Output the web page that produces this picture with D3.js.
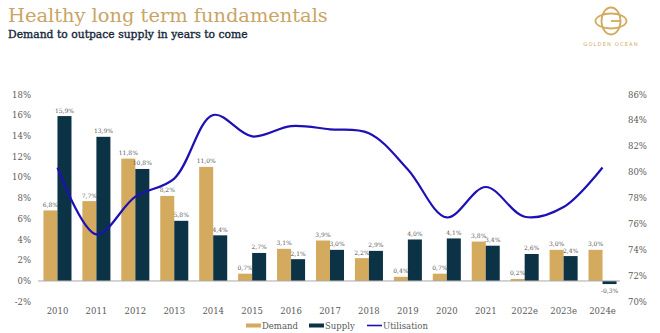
<!DOCTYPE html>
<html>
<head>
<meta charset="utf-8">
<script src="https://cdn.jsdelivr.net/npm/d3@7"></script>
<style>
  html, body { margin: 0; padding: 0; background: #ffffff; }
  svg { display: block; }
</style>
</head>
<body>
<svg id="chart" width="660" height="333"></svg>
<script>
// Fleet fundamentals: demand vs supply growth (left axis) and utilisation (right axis)
const years = ["2010","2011","2012","2013","2014","2015","2016","2017","2018","2019","2020","2021","2022e","2023e","2024e"];
const demand = [6.8, 7.7, 11.8, 8.2, 11.0, 0.7, 3.1, 3.9, 2.2, 0.4, 0.7, 3.8, 0.2, 3.0, 3.0];
const supply = [15.9, 13.9, 10.8, 5.8, 4.4, 2.7, 2.1, 3.0, 2.9, 4.0, 4.1, 3.4, 2.6, 2.4, -0.3];
const utilisation = [80.35, 75.2, 78.1, 79.5, 84.4, 82.75, 83.55, 83.3, 83.0, 80.2, 76.5, 78.85, 76.55, 77.3, 80.35];
const leftTicks = [-2, 0, 2, 4, 6, 8, 10, 12, 14, 16, 18];
const rightTicks = [70, 72, 74, 76, 78, 80, 82, 84, 86];
const seriesNames = ["Demand", "Supply", "Utilisation"];

const GOLD = "#d3aa5e";
const NAVY = "#0c3345";
const BLUE = "#1d10b4";
const GREY = "#5a5a5a";
const SERIF = "'DejaVu Serif', serif";

const svg = d3.select("#chart");

// Titles
const title = svg.append("text")
  .attr("x", 8).attr("y", 22)
  .attr("font-family", SERIF).attr("font-size", 20)
  .attr("fill", "#c9a564")
  .text("Healthy long term fundamentals");
const tw = title.node().getComputedTextLength();
title.attr("font-size", 20 * 320 / tw);

const sub = svg.append("text")
  .attr("x", 8).attr("y", 38)
  .attr("font-family", SERIF).attr("font-size", 10)
  .attr("fill", "#16283a").attr("stroke", "#16283a").attr("stroke-width", 0.35)
  .text("Demand to outpace supply in years to come");
const sw = sub.node().getComputedTextLength();
sub.attr("font-size", 10 * 240 / sw);

// Logo mark
const logo = svg.append("g").attr("transform", "translate(611,21)")
  .attr("fill", "none").attr("stroke", GOLD).attr("stroke-width", 1.8);
logo.append("ellipse").attr("rx", 9.5).attr("ry", 13.5);
logo.append("ellipse").attr("rx", 15.5).attr("ry", 7.5);
logo.append("line").attr("x1", 0).attr("x2", 9.5).attr("y1", 0).attr("y2", 0);
svg.append("text")
  .attr("x", 611).attr("y", 46).attr("text-anchor", "middle")
  .attr("font-family", "'DejaVu Sans', sans-serif").attr("font-size", 5.2)
  .attr("letter-spacing", 1.1).attr("fill", GOLD)
  .text("GOLDEN OCEAN");

// Scales
const x = d3.scaleBand().domain(years).range([38, 622]).paddingInner(0.28).paddingOuter(0.14);
const xs = d3.scaleBand().domain(["Demand", "Supply"]).range([0, x.bandwidth()]);
const yL = d3.scaleLinear().domain([-2, 18]).range([301.7, 94.3]);
const yR = d3.scaleLinear().domain([70, 86]).range([301.7, 94.3]);

// Axes (labels only)
const axL = svg.append("g").attr("transform", "translate(38,0)")
  .call(d3.axisLeft(yL).tickValues(leftTicks).tickSize(0).tickPadding(7).tickFormat(d => d + "%"));
const axR = svg.append("g").attr("transform", "translate(622,0)")
  .call(d3.axisRight(yR).tickValues(rightTicks).tickSize(0).tickPadding(6).tickFormat(d => d + "%"));
const axX = svg.append("g").attr("transform", "translate(0,303)")
  .call(d3.axisBottom(x).tickSize(0).tickPadding(5));
[axL, axR, axX].forEach(a => {
  a.select(".domain").remove();
  a.selectAll("text").attr("font-family", SERIF).attr("font-size", 8.5).attr("fill", GREY);
});

// Bars
const fmt = v => String(v.toFixed(1)).replace(".", ",") + "%";
const barData = [];
years.forEach((yr, i) => {
  barData.push({ yr, key: "Demand", v: demand[i] });
  barData.push({ yr, key: "Supply", v: supply[i] });
});
svg.append("g").selectAll("rect").data(barData).join("rect")
  .attr("x", d => x(d.yr) + xs(d.key))
  .attr("width", xs.bandwidth())
  .attr("y", d => yL(Math.max(0, d.v)))
  .attr("height", d => Math.abs(yL(d.v) - yL(0)))
  .attr("fill", d => d.key === "Demand" ? GOLD : NAVY);

// Zero baseline
svg.append("line")
  .attr("x1", 38).attr("x2", 620)
  .attr("y1", yL(0)).attr("y2", yL(0))
  .attr("stroke", "#a9a9a9").attr("stroke-width", 1);

// Value labels
svg.append("g").selectAll("text").data(barData).join("text")
  .attr("x", d => x(d.yr) + xs(d.key) + xs.bandwidth() / 2)
  .attr("y", d => d.v >= 0 ? yL(d.v) - 3.5 : yL(d.v) + 9)
  .attr("text-anchor", "middle")
  .attr("font-family", SERIF).attr("font-size", 6)
  .attr("fill", GREY)
  .text(d => fmt(d.v));

// Utilisation line
const line = d3.line()
  .x((d, i) => x(years[i]) + x.bandwidth() / 2)
  .y(d => yR(d))
  .curve(d3.curveCatmullRom.alpha(0.5));
svg.append("path").datum(utilisation)
  .attr("d", line)
  .attr("fill", "none").attr("stroke", BLUE).attr("stroke-width", 2.2);

// Legend
const legend = svg.append("g").attr("transform", "translate(0,326)");
const items = [
  { name: seriesNames[0], x: 246, type: "bar", color: GOLD },
  { name: seriesNames[1], x: 309, type: "bar", color: NAVY },
  { name: seriesNames[2], x: 367, type: "line", color: BLUE }
];
items.forEach(it => {
  if (it.type === "bar") {
    legend.append("rect").attr("x", it.x).attr("y", -2.5).attr("width", 15).attr("height", 4).attr("fill", it.color);
  } else {
    legend.append("line").attr("x1", it.x).attr("x2", it.x + 15).attr("y1", -0.5).attr("y2", -0.5)
      .attr("stroke", it.color).attr("stroke-width", 1.6);
  }
  legend.append("text").attr("x", it.x + 16).attr("y", 2.5)
    .attr("font-family", SERIF).attr("font-size", 8.5).attr("fill", GREY)
    .text(it.name);
});
</script>
</body>
</html>
